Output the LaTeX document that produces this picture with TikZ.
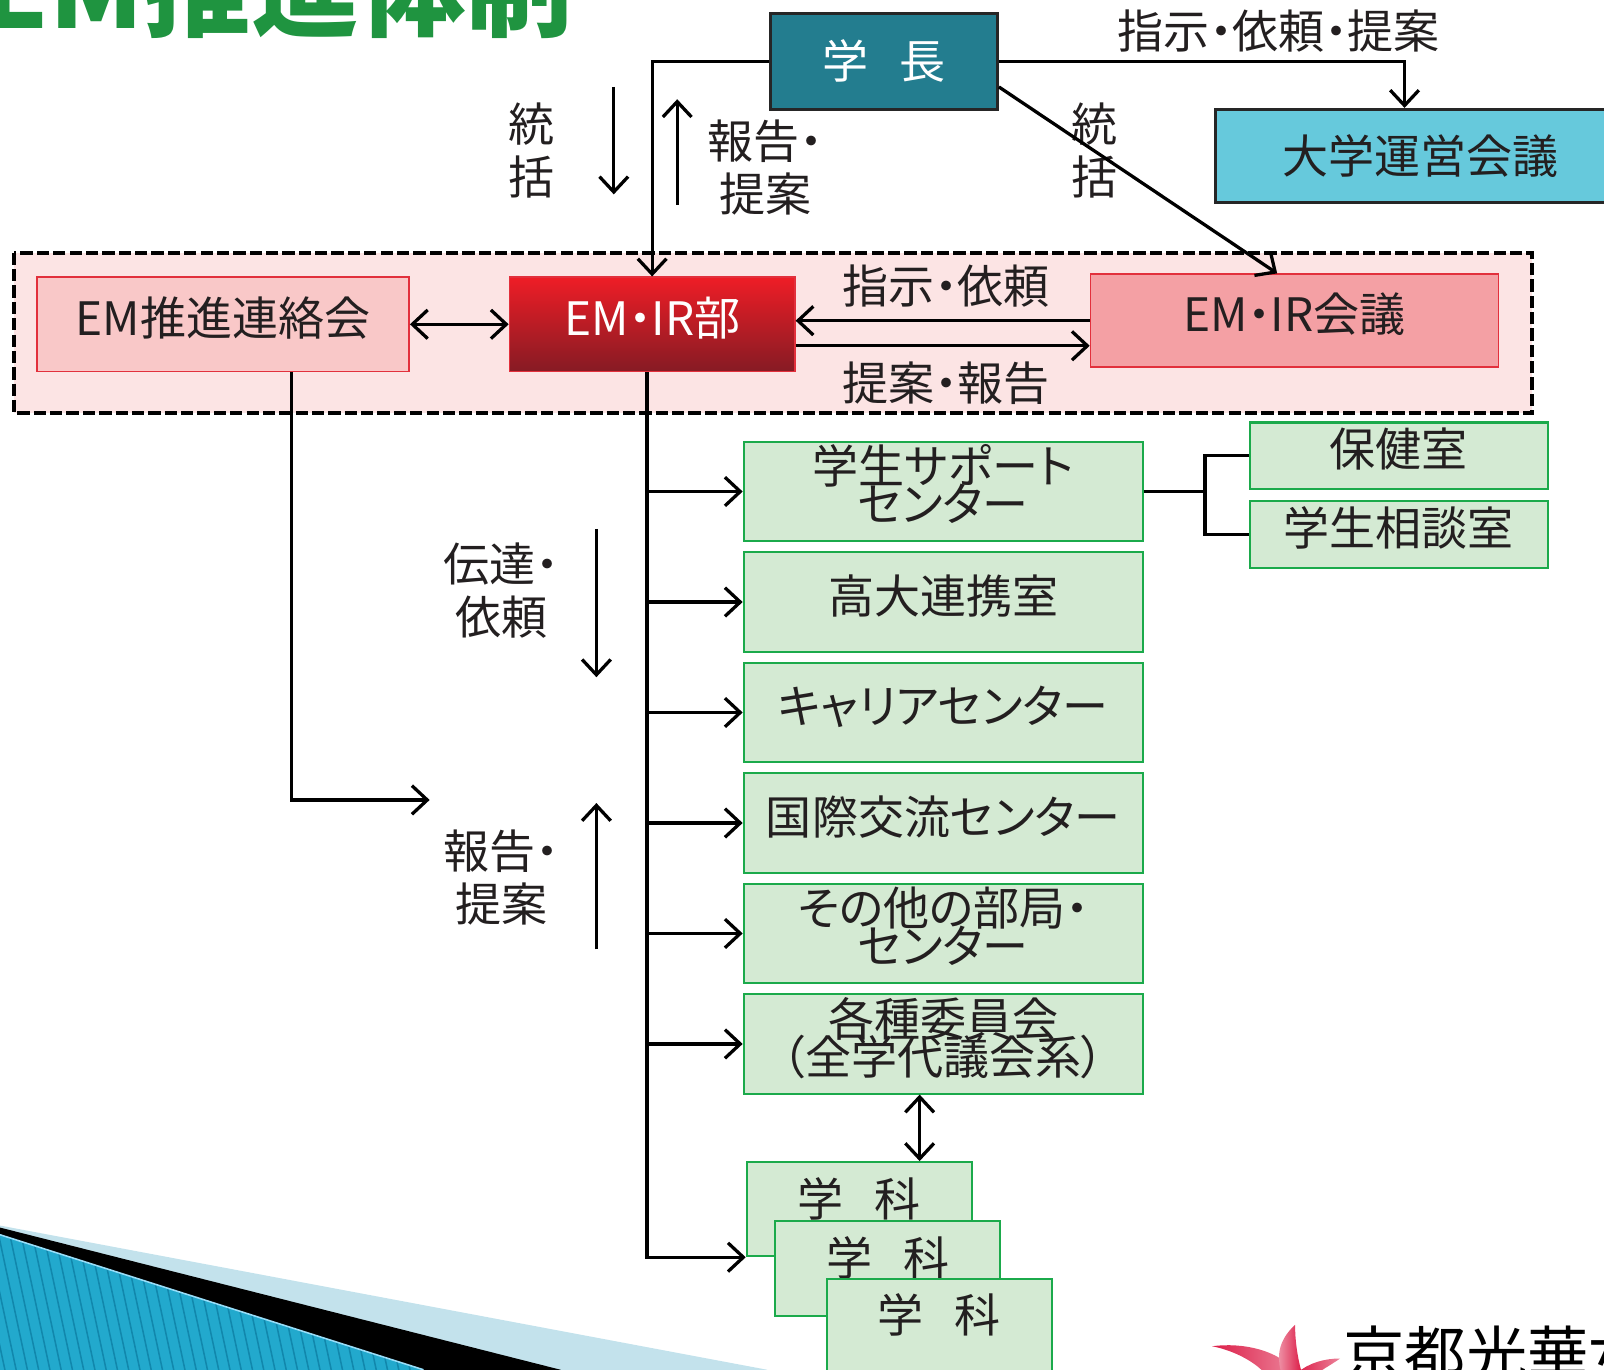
\documentclass[tikz,border=0pt]{standalone}
\usepackage{fontspec}
\setmainfont{Noto Sans CJK JP}[RawFeature=+palt]
\usepackage{tikz}
\usetikzlibrary{arrows.meta, positioning, calc}

\definecolor{tealbox}{HTML}{237D8F}
\definecolor{cyanbox}{HTML}{66C9DC}
\definecolor{pinkbg}{HTML}{FCE4E4}
\definecolor{pinkbox}{HTML}{F9C8C8}
\definecolor{rosebox}{HTML}{F4A0A4}
\definecolor{redline}{HTML}{E2303C}
\definecolor{redtop}{HTML}{EE1D26}
\definecolor{redbot}{HTML}{861B24}
\definecolor{greenbox}{HTML}{D4EAD3}
\definecolor{greenline}{HTML}{1BAA4B}
\definecolor{titlegreen}{HTML}{1F9440}
\definecolor{inkgray}{HTML}{231F20}
\definecolor{paleblue}{HTML}{C3E2EC}
\definecolor{stripeblue}{HTML}{22A9CD}
\definecolor{darkstripe}{HTML}{1187AC}
\definecolor{petal}{HTML}{DC1E48}

\newcommand\diagfont{\fontsize{45}{50}\selectfont}
\newcommand\tightfont{\fontsize{45}{37}\selectfont\lineskiplimit=-100pt}
\newcommand\labelfont{\fontsize{45}{52}\selectfont}

\begin{document}
\begin{tikzpicture}[x=1pt, y=-1pt,
    >={Straight Barb[length=15pt,width=28pt]},
    link/.style={draw=black, line width=3.2pt},
    topbox/.style={draw=black!85, line width=3pt, inner sep=0pt, font=\diagfont},
    embox/.style={draw=redline, line width=1.5pt, inner sep=0pt, minimum height=92pt,
        font=\diagfont, text=inkgray, text height=37pt, text depth=15pt},
    gbox/.style={draw=greenline, line width=2pt, fill=greenbox, inner sep=0pt,
        minimum width=390pt, minimum height=97pt, font=\diagfont, text=inkgray,
        text height=37pt, text depth=15pt, align=center},
    twoline/.style={font=\tightfont, text height=74pt, text depth=15pt},
    sidebox/.style={gbox, minimum width=291pt, minimum height=65pt},
    gakka/.style={gbox, minimum width=220pt, minimum height=92pt, text depth=23pt},
    lbl/.style={font=\labelfont, text=inkgray, align=center, inner sep=0pt},
    frame/.style={draw=black, line width=4pt, dash pattern=on 12pt off 4pt, fill=pinkbg}]

    \useasboundingbox (0,0) rectangle (1568,1339);
    \clip (0,0) rectangle (1568,1339);

    % corner decorations
    \fill[paleblue] (0,1198) -- (750,1339) -- (0,1339) -- cycle;
    \fill[black] (0,1200) -- (548,1339) -- (0,1339) -- cycle;
    \begin{scope}
        \clip (0,1207) -- (414,1339) -- (0,1339) -- cycle;
        \fill[stripeblue] (0,1190) rectangle (420,1339);
        \foreach \s in {-60,-49,...,420} {
            \draw[darkstripe, line width=1.5pt] (\s,1190) -- ++(32,150);
        }
    \end{scope}
    \draw[cyan!40, line width=1.5pt] (0,1207) -- (414,1339);

    \node[anchor=base west, inner sep=0pt, text=titlegreen,
        font=\fontsize{105}{105}\selectfont\bfseries] (title) at (-18,28) {EM推進体制};

    % logo
    \shade[left color=petal, right color=petal!55] (1185,1316) .. controls (1215,1312) and (1250,1320) .. (1265,1340)
        -- (1236,1342) .. controls (1225,1330) and (1205,1320) .. cycle;
    \shade[left color=petal!45, right color=petal] (1266,1295) .. controls (1250,1310) and (1248,1325) .. (1252,1340)
        -- (1272,1340) .. controls (1268,1325) and (1266,1310) .. cycle;
    \shade[left color=petal, right color=petal!55] (1268,1342) .. controls (1280,1332) and (1295,1328) .. (1310,1328)
        .. controls (1300,1335) and (1290,1340) .. (1285,1345) -- cycle;
    \node[anchor=base west, inner sep=0pt, text=black,
        font=\fontsize{60}{60}\selectfont] (logo) at (1313,1347) {京都光華女};

    % top
    \node[topbox, fill=tealbox, text=white, minimum width=222pt, minimum height=94pt]
        (gakucho) at (864,60) {学\hspace{30pt}長};
    \node[topbox, fill=cyanbox, text=inkgray, minimum width=402pt, minimum height=91pt]
        (unei) at (1389,152.5) {大学運営会議};
    \node[lbl] (shiji-top) at (1250,30) {指示・依頼・提案};

    % EM group
    \draw[frame] (14,247) rectangle (1498,404);
    \node[embox, fill=pinkbox, minimum width=364pt] (renraku) at (218,317) {EM推進連絡会};
    \node[embox, top color=redtop, bottom color=redbot, text=white, minimum width=279pt]
        (irbu) at (637.5,317) {EM・IR部};
    \node[embox, fill=rosebox, minimum width=399pt, minimum height=91pt]
        (irkaigi) at (1265.5,313.5) {EM・IR会議};
    \node[lbl] (shiji) at (925,280) {指示・依頼};
    \node[lbl] (teian) at (925,375) {提案・報告};

    % units
    \node[gbox, twoline] (sapo) at (922,480.5) {学生サポート\\センター};
    \node[gbox, below=9pt of sapo] (kodai) {高大連携室};
    \node[gbox, below=9pt of kodai] (career) {キャリアセンター};
    \node[gbox, below=9pt of career] (kokusai) {国際交流センター};
    \node[gbox, twoline, below=9pt of kokusai] (sonota) {その他の部局・\\センター};
    \node[gbox, twoline, below=9pt of sonota] (iinkai) {各種委員会\\（全学代議会系）};
    \node[sidebox] (hoken) at (1367.5,445.5) {保健室};
    \node[sidebox, below=10pt of hoken] (sodan) {学生相談室};

    \node[gakka] (gakka1) at (840,1182) {学\hspace{30pt}科};
    \node[gakka] (gakka2) at (868,1240) {学\hspace{30pt}科};
    \node[gakka] (gakka3) at (918,1296) {学\hspace{30pt}科};

    % labels
    \node[lbl] (toukatsu-l) at (520,147) {統\\括};
    \node[lbl] (toukatsu-r) at (1070,147) {統\\括};
    \node[lbl] (houkoku-u) at (748,164) {報告・\\提案};
    \node[lbl] (dentatsu) at (490,577) {伝達・\\依頼};
    \node[lbl] (houkoku-d) at (490,858) {報告・\\提案};

    \coordinate (tk-top) at (600,85);
    \coordinate (tk-bot) at (600,190);
    \coordinate (hk-bot) at (662,200);
    \coordinate (hk-top) at (662,97);
    \coordinate (dt-top) at (583,517);
    \coordinate (dt-bot) at (583,662);
    \coordinate (hd-bot) at (583,928);
    \coordinate (hd-top) at (583,785);
    \coordinate (renraku-end) at (420,782);
    \coordinate (trunk) at ([xshift=-5pt]irbu.south);

    % connectors
    \draw[link, ->] (gakucho.west) -| (irbu.north);
    \draw[link, ->] (gakucho.east) -| ([xshift=-16pt]unei.north);
    \draw[link, ->] ([yshift=-25pt]gakucho.east) -- ([xshift=-17pt]irkaigi.north);
    \draw[link, <->] (renraku) -- (irbu);
    \draw[link, ->] (irkaigi.west) -- (irkaigi.west -| irbu.east);
    \draw[link, ->] ([yshift=-21pt]irbu.east) -- ([yshift=-21pt]irbu.east -| irkaigi.west);

    \draw[link, ->] (tk-top) -- (tk-bot);
    \draw[link, ->] (hk-bot) -- (hk-top);
    \draw[link, ->] (dt-top) -- (dt-bot);
    \draw[link, ->] (hd-bot) -- (hd-top);

    \draw[link, ->] ([xshift=67pt]renraku.south) |- (renraku-end);
    \draw[link, ->] (trunk) |- (gakka1.south west);
    \foreach \b in {sapo, kodai, career, kokusai, sonota, iinkai} {
        \draw[link, ->] (trunk |- \b.west) -- (\b.west);
    }
    \draw[link] (sapo.east) -- ++(60,0) coordinate (fork);
    \draw[link] (hoken.west) -| (fork) |- (sodan.west);
    \draw[link, <->] ([xshift=-23pt]iinkai.south) -- ([xshift=-23pt]iinkai.south |- gakka1.north);
\end{tikzpicture}
\end{document}
